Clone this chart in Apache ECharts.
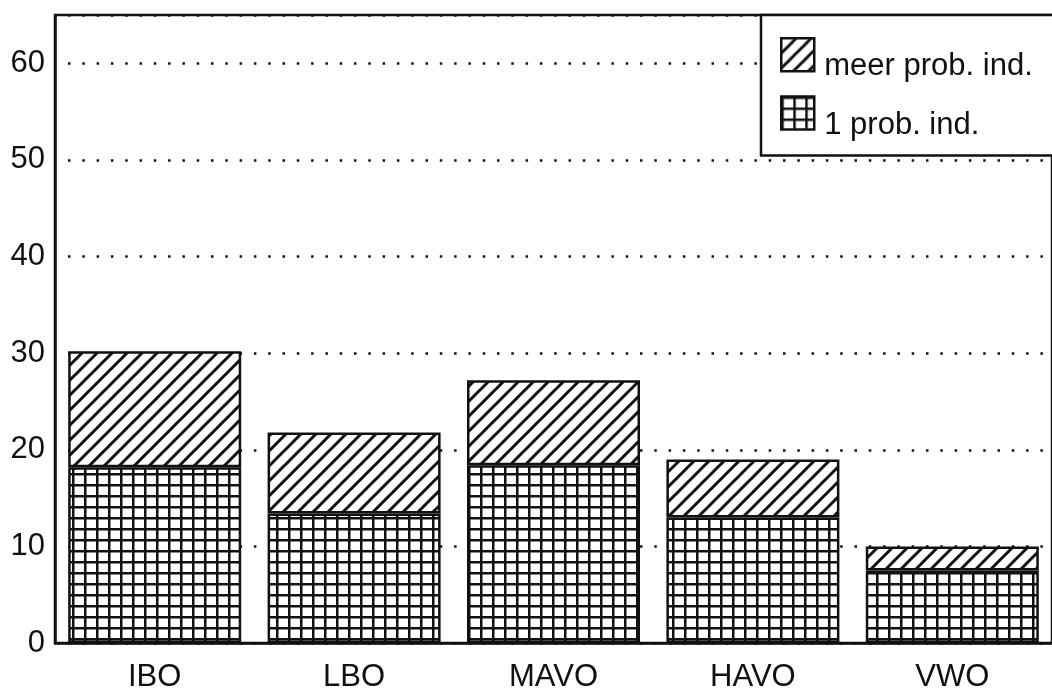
<!DOCTYPE html>
<html>
<head>
<meta charset="utf-8">
<script src="https://cdn.jsdelivr.net/npm/echarts@6/dist/echarts.min.js"></script>
<style>html,body{margin:0;padding:0;background:#fff;}#c{width:1052px;height:694px;}</style>
</head>
<body>
<div id="c"></div>
<script>
var categories = ['IBO', 'LBO', 'MAVO', 'HAVO', 'VWO'];
var oneProb = [18.2, 13.4, 18.4, 13.0, 7.5];
var meerProb = [12.0, 8.4, 8.8, 6.0, 2.5];
var seriesNames = ['1 prob. ind.', 'meer prob. ind.'];

function hatchPattern() {
  var c = document.createElement('canvas');
  c.width = 15; c.height = 15;
  var g = c.getContext('2d');
  g.fillStyle = '#fff'; g.fillRect(0, 0, 15, 15);
  g.strokeStyle = '#111'; g.lineWidth = 3;
  g.beginPath();
  g.moveTo(-2, 17); g.lineTo(17, -2);
  g.moveTo(-2, 2); g.lineTo(2, -2);
  g.moveTo(13, 17); g.lineTo(17, 13);
  g.stroke();
  return c;
}
function gridPattern() {
  var c = document.createElement('canvas');
  c.width = 12; c.height = 11;
  var g = c.getContext('2d');
  g.fillStyle = '#fff'; g.fillRect(0, 0, 12, 11);
  g.fillStyle = '#111';
  g.fillRect(0, 0, 2.5, 11);
  g.fillRect(0, 0, 12, 2.5);
  return c;
}

var font = '"Liberation Sans", Arial, sans-serif';
var chart = echarts.init(document.getElementById('c'), null, {renderer: 'canvas'});
chart.setOption({
  animation: false,
  backgroundColor: '#fff',
  grid: {left: 55, top: 15, bottom: 51, right: -7, show: true, borderColor: '#111', borderWidth: 2.5, backgroundColor: 'transparent'},
  legend: {
    data: [seriesNames[1], seriesNames[0]],
    orient: 'vertical',
    left: 761, top: 15,
    padding: [22, 80, 15, 19],
    itemWidth: 33, itemHeight: 33, itemGap: 13,
    icon: 'rect',
    backgroundColor: '#fff',
    borderColor: '#111', borderWidth: 2.5,
    itemStyle: {borderColor: '#111', borderWidth: 2.5},
    formatter: function (name) { return '{a|' + name + '}'; },
    textStyle: {
      fontFamily: font, fontSize: 31, color: '#111',
      rich: {a: {fontFamily: font, fontSize: 31, color: '#111', padding: [24, 0, 0, 5]}}
    },
    z: 10
  },
  xAxis: {
    type: 'category',
    data: categories,
    axisLine: {lineStyle: {color: '#111', width: 2.5}},
    axisTick: {show: false},
    axisLabel: {fontFamily: font, fontSize: 31, color: '#111', margin: 19}
  },
  yAxis: {
    type: 'value',
    min: 0, max: 65, interval: 10,
    axisLine: {show: true, lineStyle: {color: '#111', width: 2.5}},
    axisTick: {show: false},
    axisLabel: {fontFamily: font, fontSize: 31, color: '#111', margin: 10, showMaxLabel: false,
      formatter: function (v) { return v === 65 ? '' : String(v); }},
    splitLine: {show: true, lineStyle: {color: '#111', width: 2.5, type: [2.5, 11.8], dashOffset: -13}}
  },
  series: [
    {
      name: seriesNames[0], type: 'bar', stack: 's', data: oneProb, barWidth: 173,
      itemStyle: {color: {image: gridPattern(), repeat: 'repeat'}, borderColor: '#111', borderWidth: 2.5}
    },
    {
      name: seriesNames[1], type: 'bar', stack: 's', data: meerProb, barWidth: 173,
      itemStyle: {color: {image: hatchPattern(), repeat: 'repeat'}, borderColor: '#111', borderWidth: 2.5}
    }
  ]
});
</script>
</body>
</html>
